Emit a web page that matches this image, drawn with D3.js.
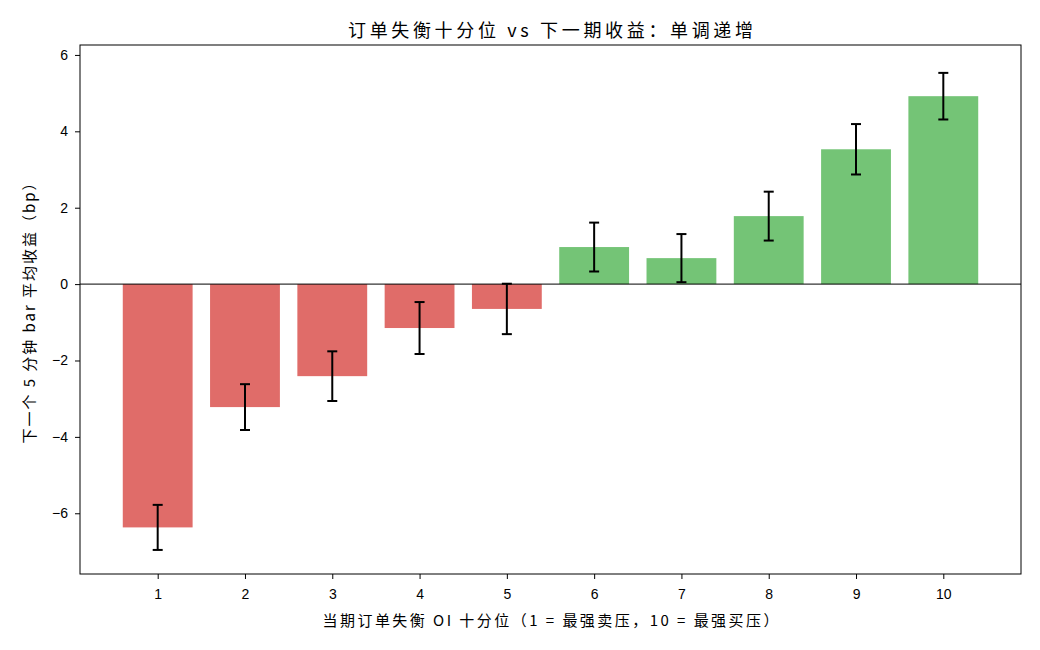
<html>
    <head>
        <script src="https://d3js.org/d3.v7.min.js"></script>
        <style>
            body{ margin:0; background:#fff; }
            text{ font-family: "Noto Sans CJK SC", "DejaVu Sans", sans-serif; fill:#000; }
        </style>
    </head>
    <body>
        <svg id="svg" width="1040" height="650"></svg>
        <script>
            // data
            var deciles = [1, 2, 3, 4, 5, 6, 7, 8, 9, 10];
            var meanRet = [-6.37, -3.22, -2.41, -1.15, -0.65, 0.97, 0.68, 1.78, 3.53, 4.92];
            var errRet = [0.59, 0.6, 0.65, 0.68, 0.66, 0.64, 0.63, 0.64, 0.66, 0.61];
            var yTicks = [-6, -4, -2, 0, 2, 4, 6];

            var margin = {top: 45, right: 19, bottom: 76, left: 80};
            var svg = d3.select("svg");
            var width = +svg.attr("width") - margin.left - margin.right;
            var height = +svg.attr("height") - margin.top - margin.bottom;
            var g = svg.append("g").attr("transform", "translate(" + margin.left + "," + margin.top + ")");

            var x = d3.scaleLinear().domain([0.11, 10.89]).range([0, width]);
            var y = d3.scaleLinear().domain([-7.59, 6.26]).range([height, 0]);
            var bw = x(0.8) - x(0);

            var data = deciles.map(function(d, i){ return {k: d, v: meanRet[i], e: errRet[i]}; });

            g.selectAll(".bar").data(data).enter().append("rect")
                .attr("x", function(d){ return x(d.k) - bw / 2; })
                .attr("width", bw)
                .attr("y", function(d){ return y(Math.max(0, d.v)); })
                .attr("height", function(d){ return Math.abs(y(d.v) - y(0)); })
                .attr("fill", function(d){ return d.v < 0 ? "#e06c69" : "#74c476"; });

            // zero line
            g.append("line").attr("x1", 0).attr("x2", width)
                .attr("y1", y(0)).attr("y2", y(0))
                .attr("stroke", "#000").attr("stroke-width", 1);

            // error bars
            var eb = g.selectAll(".err").data(data).enter().append("g");
            eb.append("line")
                .attr("x1", function(d){ return x(d.k); }).attr("x2", function(d){ return x(d.k); })
                .attr("y1", function(d){ return y(d.v - d.e); }).attr("y2", function(d){ return y(d.v + d.e); })
                .attr("stroke", "#000").attr("stroke-width", 2);
            [-1, 1].forEach(function(s){
                eb.append("line")
                    .attr("x1", function(d){ return x(d.k) - 5; }).attr("x2", function(d){ return x(d.k) + 5; })
                    .attr("y1", function(d){ return y(d.v + s * d.e); }).attr("y2", function(d){ return y(d.v + s * d.e); })
                    .attr("stroke", "#000").attr("stroke-width", 2);
            });

            // axes
            var xAxis = d3.axisBottom(x).tickValues(deciles).tickSize(5).tickPadding(10);
            var yAxis = d3.axisLeft(y).tickValues(yTicks).tickSize(5).tickPadding(7)
                .tickFormat(function(d){ return d < 0 ? "\u2212" + Math.abs(d) : d; });
            var gx = g.append("g").attr("transform", "translate(0," + height + ")").call(xAxis);
            var gy = g.append("g").call(yAxis);
            [gx, gy].forEach(function(a){
                a.select(".domain").remove();
                a.selectAll("text").style("font-size", "14px").style("font-family", "'Liberation Sans', Arial, sans-serif").attr("fill", "#000");
                a.selectAll("line").attr("stroke", "#000");
            });

            g.append("rect").attr("width", width).attr("height", height)
                .attr("fill", "none").attr("stroke", "#000").attr("stroke-width", 1);

            svg.append("text").attr("x", margin.left + width / 2).attr("y", 37)
                .attr("text-anchor", "middle").style("font-size", "18px")
                .attr("textLength", 405).attr("lengthAdjust", "spacing")
                .text("订单失衡十分位 vs 下一期收益：单调递增");
            svg.append("text").attr("x", margin.left + width / 2).attr("y", 626)
                .attr("text-anchor", "middle").style("font-size", "15px")
                .attr("textLength", 456).attr("lengthAdjust", "spacing")
                .text("当期订单失衡 OI 十分位（1 = 最强卖压，10 = 最强买压）");
            svg.append("text")
                .attr("transform", "translate(35," + (margin.top + height / 2) + ") rotate(-90)")
                .attr("text-anchor", "middle").style("font-size", "15px")
                .attr("textLength", 268).attr("lengthAdjust", "spacing")
                .text("下一个 5 分钟 bar 平均收益（bp）");
        </script>
    </body>
</html>
